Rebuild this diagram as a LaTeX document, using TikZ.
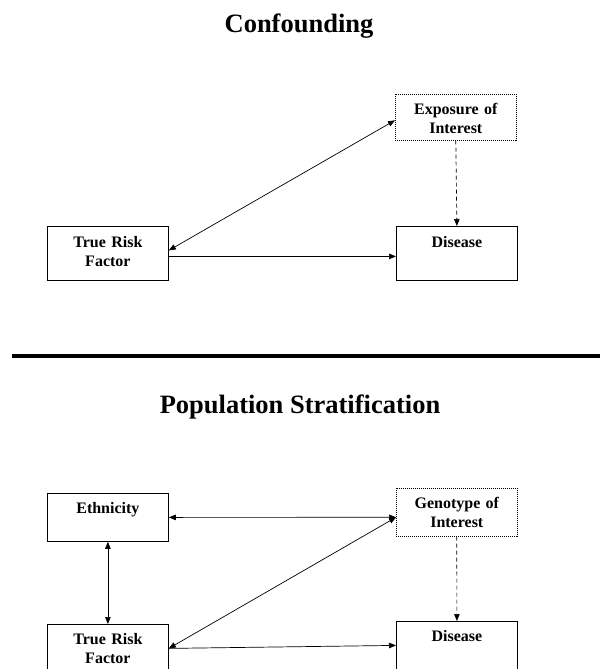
\documentclass[tikz,border=0pt]{standalone}
\usepackage{fontspec}
\setmainfont{Liberation Serif}
\usetikzlibrary{arrows.meta,calc,positioning}
\tikzset{
  box/.style={draw,line width=0.8pt,inner sep=0pt,anchor=north west,
    text width=121pt,align=center,font=\fontsize{16}{19}\selectfont\bfseries,
    text height=21pt,text depth=33pt},
  lowbox/.style={box,text height=20pt,text depth=28pt},
  dotbox/.style={line width=0.6pt,dash pattern=on 1pt off 1pt},
  edge/.style={-{Triangle[length=7pt,width=5.5pt]},line width=0.7pt},
  bedge/.style={{Triangle[length=7pt,width=5.5pt]}-{Triangle[length=7pt,width=5.5pt]},line width=0.7pt},
  dedge/.style={edge,dash pattern=on 4pt off 3pt},
  title/.style={anchor=base,font=\fontsize{26.5}{30}\selectfont\bfseries}
}
\begin{document}
\begin{tikzpicture}[x=1pt,y=-1pt]
\clip (0,0) rectangle (600,669);
% confounding
\node[title] (t1) at (299,33) {Confounding};
\node[lowbox,dotbox,text depth=26pt] (expo) at (395,94) {Exposure of\\Interest};
\node[box] (trf) at (47,226) {True Risk\\Factor};
\node[box] (dis) at (396,226) {Disease};
\draw[bedge] ([yshift=3pt]trf.east) -- ([yshift=-3pt]expo.west);
\draw[edge] ([yshift=-3pt]trf.east) -- ([yshift=-3pt]dis.west);
\draw[dedge] (expo.south) -- (dis.north);
% separator
\draw[line width=4.5pt] (12,356) -- (600,356);
% population stratification
\node[title] (t2) at (300,413) {Population Stratification};
\node[lowbox] (eth) at (47,493) {Ethnicity};
\node[lowbox,dotbox] (gen) at (396,488) {Genotype of\\Interest};
\node[lowbox] (trf2) at (47,624) {True Risk\\Factor};
\node[lowbox] (dis2) at (396,621) {Disease};
\draw[bedge] (eth.east) -- ([yshift=-5pt]gen.west);
\draw[bedge] (eth.south) -- (trf2.north);
\draw[bedge] (trf2.east) -- ([yshift=-5pt]gen.west);
\draw[edge] (trf2.east) -- (dis2.west);
\draw[dedge] (gen.south) -- (dis2.north);
\end{tikzpicture}
\end{document}
